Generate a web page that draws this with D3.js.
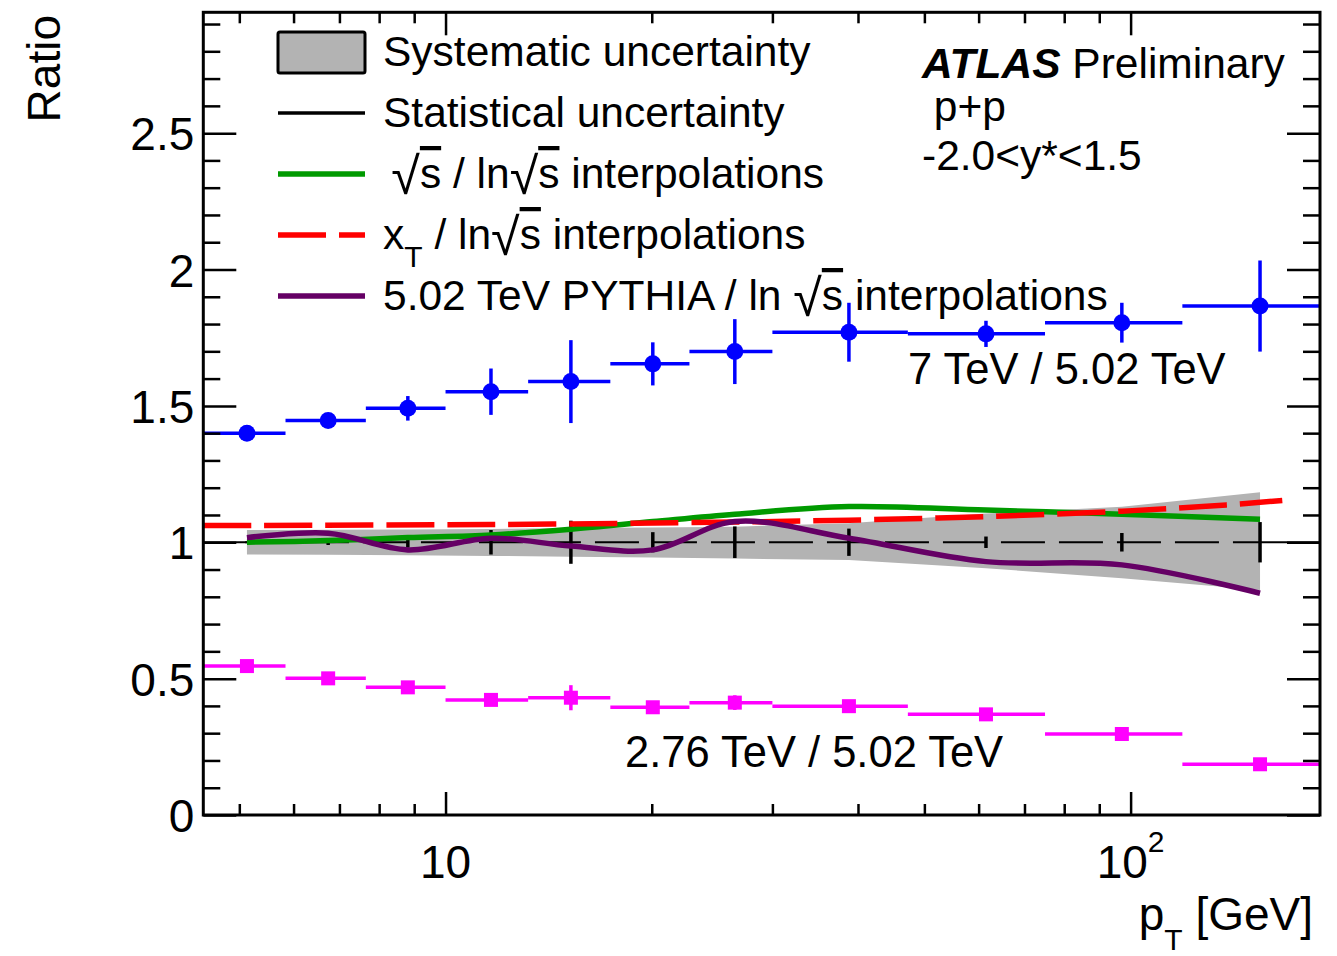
<!DOCTYPE html>
<html><head><meta charset="utf-8">
<script src="https://cdn.jsdelivr.net/npm/d3@7"></script>
<style>
html,body{margin:0;padding:0;background:#fff;}
svg{display:block;}
text{font-family:"Liberation Sans",Arial,Helvetica,sans-serif;fill:#000;white-space:pre;}
</style></head><body>
<svg id="chart" width="1337" height="956"></svg>
<script>
// ---------------- data ----------------
const binEdges   = [4.43, 5.84, 7.65, 10, 13.2, 17.4, 22.7, 30, 47.3, 75, 119, 189];
const ptCenters  = [5.13, 6.74, 8.81, 11.65, 15.24, 20.07, 26.44, 38.8, 61.5, 97.1, 154.5];
const ratio7     = [1.400, 1.446, 1.491, 1.552, 1.589, 1.654, 1.699, 1.770, 1.764, 1.805, 1.866];
const ratio7Err  = [0.008, 0.012, 0.045, 0.085, 0.152, 0.079, 0.119, 0.108, 0.048, 0.073, 0.167];
const ratio276   = [0.546, 0.501, 0.468, 0.422, 0.430, 0.395, 0.412, 0.399, 0.369, 0.297, 0.186];
const ratio276Err= [0.012, 0.012, 0.012, 0.015, 0.046, 0.015, 0.027, 0.015, 0.012, 0.015, 0.020];
const statErr    = [0.004, 0.010, 0.020, 0.045, 0.079, 0.037, 0.058, 0.050, 0.021, 0.034, 0.074];
const sysUp      = [1.045, 1.046, 1.047, 1.049, 1.052, 1.054, 1.057, 1.070, 1.105, 1.130, 1.183];
const sysDown    = [0.955, 0.954, 0.952, 0.950, 0.947, 0.944, 0.940, 0.935, 0.905, 0.868, 0.825];
const sqrtInterp = [1.000, 1.006, 1.017, 1.027, 1.048, 1.076, 1.103, 1.131, 1.118, 1.103, 1.084];
const pythiaInterp=[1.017, 1.033, 0.972, 1.015, 0.986, 0.972, 1.076, 1.015, 0.929, 0.917, 0.813];
const xtX        = [4.43, 11.65, 26.44, 38.8, 61.5, 97.1, 138, 166.5];
const xtInterp   = [1.061, 1.065, 1.074, 1.081, 1.094, 1.114, 1.137, 1.153];
const yMajorTicks = [0, 0.5, 1, 1.5, 2, 2.5];
const yTickLabels = ["0", "0.5", "1", "1.5", "2", "2.5"];
const yMinorTicks = [0.1,0.2,0.3,0.4,0.6,0.7,0.8,0.9,1.1,1.2,1.3,1.4,1.6,1.7,1.8,1.9,2.1,2.2,2.3,2.4,2.6,2.7,2.8,2.9];
const xMajorTicks = [10, 100];
const xMinorTicks = [5,6,7,8,9,20,30,40,50,60,70,80,90];

// ---------------- layout ----------------
const M = {left:203.3, right:1320, top:12.3, bottom:815};
const x = d3.scaleLog().domain([4.43, 189]).range([M.left, M.right]);
const y = d3.scaleLinear().domain([0, 2.943]).range([M.bottom, M.top]);
const FONT = '"Liberation Sans",Arial,Helvetica,sans-serif';
const COL = {blue:"#0000ff", pink:"#ff00ff", green:"#009a00", red:"#ff0000", purple:"#650065", band:"#b3b3b3"};

const svg = d3.select("#chart");
svg.append("defs").append("clipPath").attr("id","clip")
  .append("rect").attr("x",M.left).attr("y",M.top)
  .attr("width",M.right-M.left).attr("height",M.bottom-M.top);
const plot = svg.append("g").attr("clip-path","url(#clip)");

// y = 1 reference line (full width)
plot.append("line").attr("x1",M.left).attr("x2",M.right)
  .attr("y1",y(1)).attr("y2",y(1)).attr("stroke","#000").attr("stroke-width",2);

// systematic band
const bandArea = d3.area()
  .x((d,i)=>x(ptCenters[i])).y0((d,i)=>y(sysDown[i])).y1(d=>y(d));
plot.append("path").datum(sysUp).attr("d",bandArea).attr("fill",COL.band);

// dashed line across band
plot.append("line").attr("x1",x(ptCenters[0])).attr("x2",x(ptCenters[ptCenters.length-1]))
  .attr("y1",y(1)).attr("y2",y(1)).attr("stroke","#000").attr("stroke-width",2)
  .attr("stroke-dasharray","44,14");

// stat error bars at 1
plot.selectAll(".stat").data(statErr).enter().append("line")
  .attr("x1",(d,i)=>x(ptCenters[i])).attr("x2",(d,i)=>x(ptCenters[i]))
  .attr("y1",d=>y(1+d)).attr("y2",d=>y(1-d))
  .attr("stroke","#000").attr("stroke-width",3.5);

// interpolation curves
const curveLine = d3.line().curve(d3.curveCatmullRom.alpha(0.5));
plot.append("path")
  .attr("d",curveLine(sqrtInterp.map((v,i)=>[x(ptCenters[i]),y(v)])))
  .attr("fill","none").attr("stroke",COL.green).attr("stroke-width",5.5);
plot.append("path")
  .attr("d",curveLine(xtInterp.map((v,i)=>[x(xtX[i]),y(v)])))
  .attr("fill","none").attr("stroke",COL.red).attr("stroke-width",5.5)
  .attr("stroke-dasharray","48,13");
plot.append("path")
  .attr("d",curveLine(pythiaInterp.map((v,i)=>[x(ptCenters[i]),y(v)])))
  .attr("fill","none").attr("stroke",COL.purple).attr("stroke-width",5.5);

// data series
function drawSeries(vals, errs, color, marker){
  const g = plot.append("g");
  g.selectAll(".h").data(vals).enter().append("line")
    .attr("x1",(d,i)=>x(binEdges[i])).attr("x2",(d,i)=>x(binEdges[i+1]))
    .attr("y1",d=>y(d)).attr("y2",d=>y(d))
    .attr("stroke",color).attr("stroke-width",3.5);
  g.selectAll(".v").data(vals).enter().append("line")
    .attr("x1",(d,i)=>x(ptCenters[i])).attr("x2",(d,i)=>x(ptCenters[i]))
    .attr("y1",(d,i)=>y(d+errs[i])).attr("y2",(d,i)=>y(d-errs[i]))
    .attr("stroke",color).attr("stroke-width",3.5);
  if(marker==="circle"){
    g.selectAll(".m").data(vals).enter().append("circle")
      .attr("cx",(d,i)=>x(ptCenters[i])).attr("cy",d=>y(d)).attr("r",8.5).attr("fill",color);
  } else {
    const s = 14;
    g.selectAll(".m").data(vals).enter().append("rect")
      .attr("x",(d,i)=>x(ptCenters[i])-s/2).attr("y",d=>y(d)-s/2)
      .attr("width",s).attr("height",s).attr("fill",color);
  }
}
drawSeries(ratio7, ratio7Err, COL.blue, "circle");
drawSeries(ratio276, ratio276Err, COL.pink, "square");

// ---------------- axes ----------------
function styleAxis(g){
  g.select(".domain").remove();
  g.selectAll(".tick line").attr("stroke","#000").attr("stroke-width",2.5);
}
svg.append("g").attr("transform",`translate(${M.left},0)`)
  .call(d3.axisLeft(y).tickValues(yMinorTicks).tickSize(-17).tickFormat("")).call(styleAxis);
const yAx = svg.append("g").attr("transform",`translate(${M.left},0)`)
  .call(d3.axisLeft(y).tickValues(yMajorTicks).tickSize(-33).tickPadding(9)
    .tickFormat((d,i)=>yTickLabels[i])).call(styleAxis);
yAx.selectAll("text").attr("font-size",46).attr("font-family",FONT).attr("fill","#000").attr("dy","0.36em");
svg.append("g").attr("transform",`translate(${M.right},0)`)
  .call(d3.axisRight(y).tickValues(yMinorTicks).tickSize(-17).tickFormat("")).call(styleAxis);
svg.append("g").attr("transform",`translate(${M.right},0)`)
  .call(d3.axisRight(y).tickValues(yMajorTicks).tickSize(-33).tickFormat("")).call(styleAxis);

svg.append("g").attr("transform",`translate(0,${M.bottom})`)
  .call(d3.axisBottom(x).tickValues(xMinorTicks).tickSize(-11).tickFormat("")).call(styleAxis);
svg.append("g").attr("transform",`translate(0,${M.bottom})`)
  .call(d3.axisBottom(x).tickValues(xMajorTicks).tickSize(-23).tickFormat("")).call(styleAxis);
svg.append("g").attr("transform",`translate(0,${M.top})`)
  .call(d3.axisTop(x).tickValues(xMinorTicks).tickSize(-11).tickFormat("")).call(styleAxis);
svg.append("g").attr("transform",`translate(0,${M.top})`)
  .call(d3.axisTop(x).tickValues(xMajorTicks).tickSize(-23).tickFormat("")).call(styleAxis);

// frame
svg.append("rect").attr("x",M.left).attr("y",M.top)
  .attr("width",M.right-M.left).attr("height",M.bottom-M.top)
  .attr("fill","none").attr("stroke","#000").attr("stroke-width",3);

// x tick labels
svg.append("text").attr("x",x(10)).attr("y",878).attr("text-anchor","middle")
  .attr("font-size",46).text("10");
const xl2 = svg.append("text").attr("x",x(100)).attr("y",878).attr("text-anchor","middle")
  .attr("font-size",46);
xl2.append("tspan").text("10");
xl2.append("tspan").attr("font-size",30).attr("dy",-26).text("2");

// axis titles
svg.append("text").attr("transform","translate(60,15) rotate(-90)")
  .attr("text-anchor","end").attr("font-size",46).text("Ratio");
const xt = svg.append("text").attr("x",1313).attr("y",930).attr("text-anchor","end").attr("font-size",46);
xt.append("tspan").text("p");
xt.append("tspan").attr("font-size",30).attr("dy",20).text("T");
xt.append("tspan").attr("dy",-20).text("\u00a0[GeV]");

// ---------------- legend ----------------
const LX0 = 278, LX1 = 365, TX = 383;
const rows = [52, 113, 174, 235, 296];
svg.append("rect").attr("x",LX0).attr("y",32).attr("width",LX1-LX0).attr("height",41)
  .attr("rx",2).attr("fill",COL.band).attr("stroke","#000").attr("stroke-width",3);
svg.append("line").attr("x1",LX0).attr("x2",LX1).attr("y1",rows[1]).attr("y2",rows[1])
  .attr("stroke","#000").attr("stroke-width",3.5);
svg.append("line").attr("x1",LX0).attr("x2",LX1).attr("y1",rows[2]).attr("y2",rows[2])
  .attr("stroke",COL.green).attr("stroke-width",5.5);
svg.append("line").attr("x1",LX0).attr("x2",LX1).attr("y1",rows[3]).attr("y2",rows[3])
  .attr("stroke",COL.red).attr("stroke-width",5.5).attr("stroke-dasharray","48,13");
svg.append("line").attr("x1",LX0).attr("x2",LX1).attr("y1",rows[4]).attr("y2",rows[4])
  .attr("stroke",COL.purple).attr("stroke-width",5.5);

function legText(row){ return svg.append("text").attr("x",TX).attr("y",rows[row]+14).attr("font-size",42.5); }
legText(0).text("Systematic uncertainty");
legText(1).text("Statistical uncertainty");
function sqrtS(t){
  t.append("tspan").attr("font-size",52).attr("dy",6).text("√");
  t.append("tspan").attr("dy",-6).style("text-decoration","overline").text("s");
}
const l3 = legText(2);
l3.append("tspan").attr("font-size",30).text("\u00a0");
sqrtS(l3);
l3.append("tspan").attr("font-size",42.5).text("\u00a0/ ln");
sqrtS(l3);
l3.append("tspan").text("\u00a0interpolations");
const l4 = legText(3);
l4.append("tspan").text("x");
l4.append("tspan").attr("font-size",30).attr("dy",18).text("T");
l4.append("tspan").attr("dy",-18).text("\u00a0/ ln");
sqrtS(l4);
l4.append("tspan").text("\u00a0interpolations");
const l5 = legText(4);
l5.append("tspan").text("5.02 TeV PYTHIA / ln\u00a0");
sqrtS(l5);
l5.append("tspan").text("\u00a0interpolations");

// ---------------- annotations ----------------
const at = svg.append("text").attr("x",922).attr("y",78).attr("font-size",42.5);
at.append("tspan").attr("font-weight","bold").attr("font-style","italic").text("ATLAS");
at.append("tspan").text("\u00a0Preliminary");
svg.append("text").attr("x",922).attr("y",121).attr("font-size",42.5).text("\u00a0p+p");
svg.append("text").attr("x",922).attr("y",170).attr("font-size",42.5).text("-2.0<y*<1.5");
svg.append("text").attr("x",908).attr("y",384).attr("font-size",43.5).text("7 TeV / 5.02 TeV");
svg.append("text").attr("x",625).attr("y",767).attr("font-size",43.5).text("2.76 TeV / 5.02 TeV");
</script>
</body></html>
